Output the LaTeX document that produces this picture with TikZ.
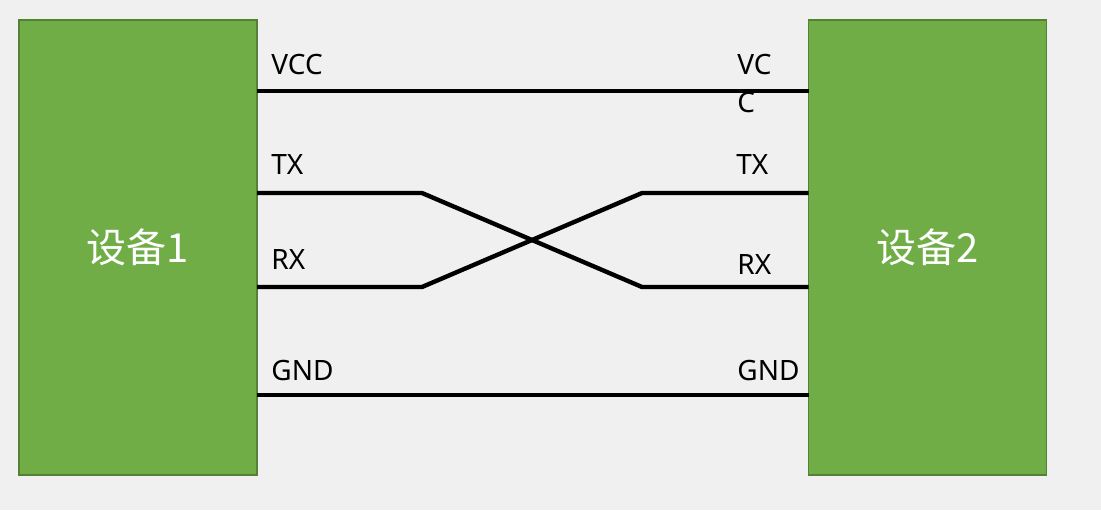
\documentclass[tikz,border=0pt]{standalone}
\usepackage{fontspec}
\setmainfont{Noto Sans}
\newfontfamily\cjk{Noto Sans CJK SC}
\usepackage{tikz}
\usetikzlibrary{positioning}
\definecolor{bgGray}{HTML}{F0F0F0}
\definecolor{devGreen}{HTML}{70AD47}
\definecolor{devEdge}{HTML}{548235}

\begin{document}
\begin{tikzpicture}[x=0.5pt, y=-0.5pt,
    devbox/.style={draw=devEdge, line width=0.75pt, fill=devGreen, text=white,
      minimum width=119pt, minimum height=227.5pt, inner sep=0pt, outer sep=0pt,
      font=\cjk\fontsize{20}{24}\selectfont},
    wire/.style={line width=2.2pt, line cap=butt, line join=miter},
    pin/.style={anchor=base west, inner sep=0pt, font=\fontsize{14}{19}\selectfont}]
      \fill[bgGray] (0,0) rectangle (1101,510);
      \useasboundingbox (0,0) rectangle (1101,510);
      % the two devices
      \node[devbox] (dev1) at (138,247.5) {设备1};
      \node[devbox] (dev2) at (927.5,247.5) {设备2};
      % wire ends
      \coordinate (vccA) at (dev1.east |- 0,91);
      \coordinate (vccB) at (dev2.west |- 0,91);
      \coordinate (txA) at (dev1.east |- 0,193);
      \coordinate (txB) at (dev2.west |- 0,193);
      \coordinate (rxA) at (dev1.east |- 0,287);
      \coordinate (rxB) at (dev2.west |- 0,287);
      \coordinate (gndA) at (dev1.east |- 0,395);
      \coordinate (gndB) at (dev2.west |- 0,395);
      \coordinate (txBendA) at (422,193);
      \coordinate (rxBendA) at (422,287);
      \coordinate (txBendB) at (642,193);
      \coordinate (rxBendB) at (642,287);
      \draw[wire] (vccA) -- (vccB);
      \draw[wire] (txA) -- (txBendA) -- (rxBendB) -- (rxB);
      \draw[wire] (rxA) -- (rxBendA) -- (txBendB) -- (txB);
      \draw[wire] (gndA) -- (gndB);
      % pin names
      \node[pin] (vcc1) at (271,74) {VCC};
      \node[pin] (tx1) at (271,174) {TX};
      \node[pin] (rx1) at (271,269) {RX};
      \node[pin] (gnd1) at (271,380) {GND};
      \node[pin, align=left] (vcc2) at (737,112) {VC\\C};
      \node[pin] (tx2) at (736,174) {TX};
      \node[pin] (rx2) at (737,274) {RX};
      \node[pin] (gnd2) at (737,380) {GND};
    \end{tikzpicture}
\end{document}
